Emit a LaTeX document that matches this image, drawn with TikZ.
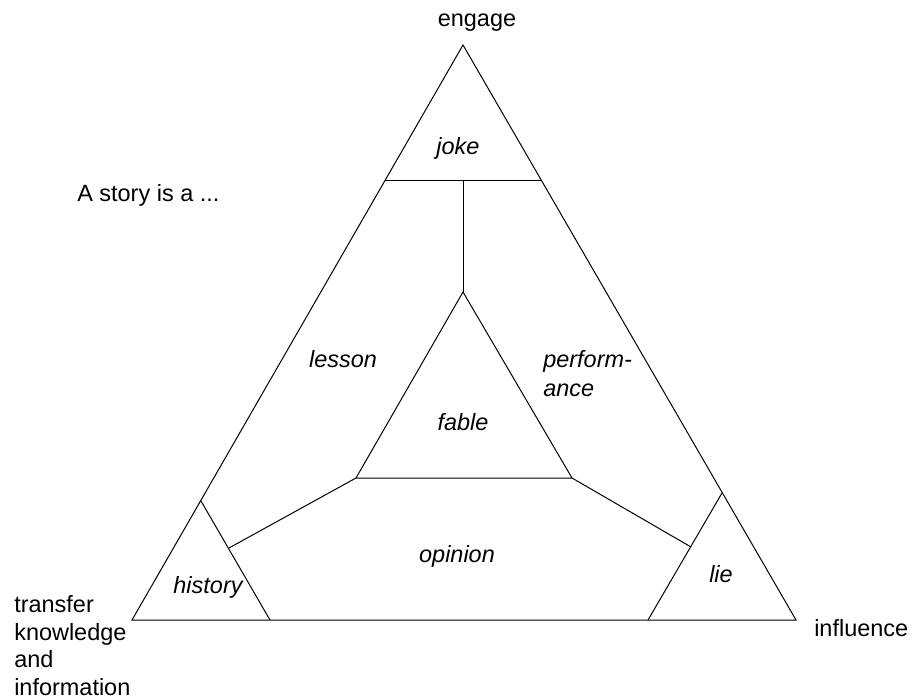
\documentclass[tikz,border=0pt]{standalone}
\usepackage{fontspec}
\setmainfont{Liberation Sans}
\begin{document}
\begin{tikzpicture}[x=0.75pt,y=-0.75pt,
  edge/.style={draw=black,line width=0.75pt,line join=miter},
  lbl/.style={font=\fontsize{17.6pt}{21pt}\selectfont,inner sep=0pt,anchor=base},
  ilbl/.style={lbl,font=\fontsize{17.6pt}{21pt}\selectfont\itshape}]
\useasboundingbox (0,0) rectangle (913,698);

% outer triangle
\coordinate (top) at (463,45);
\coordinate (bl) at (132,620);
\coordinate (br) at (796,620);
% joke cut
\coordinate (jl) at (385,181);
\coordinate (jr) at (542,181);
\coordinate (jm) at (463,181);
% inner triangle (fable)
\coordinate (ft) at (463,292);
\coordinate (fl) at (356,478);
\coordinate (fr) at (572,478);
% history corner
\coordinate (ht) at (201,501);
\coordinate (hb) at (270,620);
\coordinate (hc) at (229,548);
% lie corner
\coordinate (lt) at (722,493);
\coordinate (lb) at (648,620);
\coordinate (lc) at (691,547);

\draw[edge] (top) -- (bl) -- (br) -- cycle;
\draw[edge] (jl) -- (jr);
\draw[edge] (jm) -- (ft);
\draw[edge] (ft) -- (fl) -- (fr) -- cycle;
\draw[edge] (ht) -- (hb);
\draw[edge] (lt) -- (lb);
\draw[edge] (fl) -- (hc);
\draw[edge] (fr) -- (lc);

% corner and title labels
\node[lbl] (engage) at (477,27) {engage};
\node[lbl,anchor=base west] (title) at (77,202) {A story is a ...};
\node[lbl,anchor=base west] (influence) at (814,636) {influence};
\node[lbl,anchor=base west] (t1) at (14,612) {transfer};
\node[lbl,anchor=base west] (t2) at (14,640) {knowledge};
\node[lbl,anchor=base west] (t3) at (14,667) {and};
\node[lbl,anchor=base west] (t4) at (14,695) {information};

% region labels
\node[ilbl] (joke) at (458,155) {joke};
\node[ilbl] (lesson) at (343,368) {lesson};
\node[ilbl,anchor=base west] (perf1) at (543,368) {perform-};
\node[ilbl,anchor=base west] (perf2) at (543,396) {ance};
\node[ilbl] (fable) at (463,430) {fable};
\node[ilbl] (opinion) at (457,562) {opinion};
\node[ilbl] (history) at (208,593) {history};
\node[ilbl] (lie) at (721,582) {lie};
\end{tikzpicture}
\end{document}
